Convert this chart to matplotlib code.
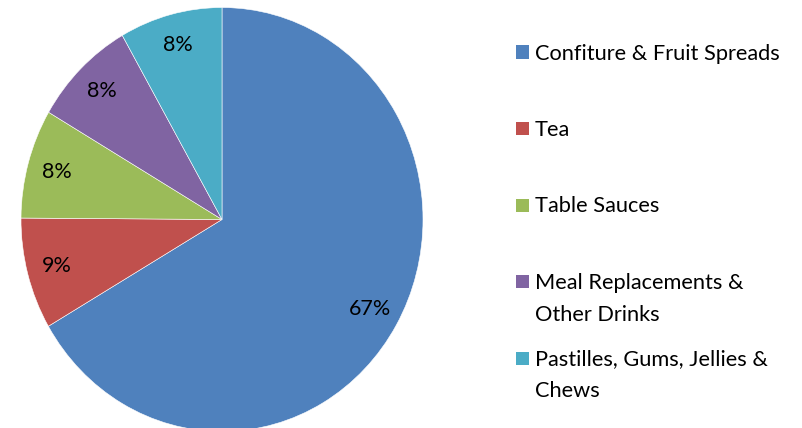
import matplotlib.pyplot as plt
from matplotlib.patches import Rectangle

categories = ["Confiture & Fruit Spreads", "Tea", "Table Sauces",
              "Meal Replacements &\nOther Drinks", "Pastilles, Gums, Jellies &\nChews"]
shares = [66.6, 8.51, 8.33, 8.30, 8.26]
colors = ["#4F81BD", "#C0504D", "#9BBB59", "#8064A2", "#4BACC6"]

plt.rcParams['font.family'] = ['Lato', 'DejaVu Sans']

W, H = 802, 428
fig = plt.figure(figsize=(W / 100, H / 100), dpi=100)

# pie is a bit taller than wide in the original, so no equal aspect
ax = fig.add_axes([21 / W, -3.5 / H, 402 / W, 424 / H])
wedges, texts, autotexts = ax.pie(shares, colors=colors, startangle=90, counterclock=False,
                                  autopct='%.0f%%', pctdistance=0.85,
                                  wedgeprops=dict(edgecolor='white', linewidth=0.4),
                                  textprops=dict(fontsize=15.5, color='black'))
ax.set_aspect('auto')
ax.set_xlim(-1, 1)
ax.set_ylim(-1, 1)

# legend drawn by hand, Excel style: entries evenly spaced by first line
y0 = 52
step = 76.5
for i, (lab, col) in enumerate(zip(categories, colors)):
    yc = y0 + i * step
    fig.patches.append(Rectangle((516 / W, 1 - (yc + 6.5) / H), 13 / W, 13 / H,
                                 transform=fig.transFigure, facecolor=col, edgecolor='none'))
    fig.text(535 / W, 1 - (yc - 8.5) / H, lab, fontsize=15.7, va='top', ha='left',
             linespacing=1.72)

fig.savefig("out.png", dpi=100)
